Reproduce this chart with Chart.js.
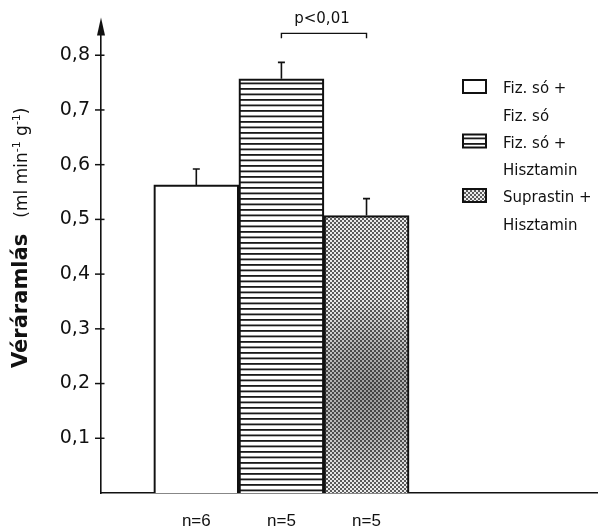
<!DOCTYPE html>
<html>
<head>
<meta charset="utf-8">
<script src="https://cdn.jsdelivr.net/npm/chart.js@4"></script>
<style>
  html, body { margin: 0; padding: 0; background: #fff; }
  #wrap { width: 598px; height: 532px; }
</style>
</head>
<body>
<div id="wrap"><canvas id="c" width="598" height="532"></canvas></div>
<script>
// Treatment groups (legend text, two lines each)
const groupLabels = [
  ['Fiz. só +', 'Fiz. só'],
  ['Fiz. só +', 'Hisztamin'],
  ['Suprastin +', 'Hisztamin']
];
// Number of animals per group, printed under each bar
const sampleSizes = ['n=6', 'n=5', 'n=5'];
// Bar positions on the x scale
const barPositions = [1, 2, 3];
// Blood flow (ml min-1 g-1): mean and SEM
const means = [0.563, 0.757, 0.507];
const sems = [0.029, 0.030, 0.031];
// Y axis ticks
const yTicks = [0.1, 0.2, 0.3, 0.4, 0.5, 0.6, 0.7, 0.8];
const yTickLabels = ['0,1', '0,2', '0,3', '0,4', '0,5', '0,6', '0,7', '0,8'];
// Significance bracket between groups 2 and 3
const sigPair = [1, 2];
const sigLabel = 'p<0,01';
const sigLevel = 0.84;

const INK = '#111';

function makePattern(w, h, paint) {
  const c = document.createElement('canvas');
  c.width = w; c.height = h;
  const g = c.getContext('2d');
  paint(g);
  return g.createPattern(c, 'repeat');
}
const plainFill = '#ffffff';
const stripeFill = makePattern(4, 11, g => {
  g.fillStyle = '#fff'; g.fillRect(0, 0, 4, 11);
  g.fillStyle = '#1a1a1a';
  g.fillRect(0, 0, 4, 1.8);
  g.fillRect(0, 5.5, 4, 1.8);
});
const dotFill = makePattern(4, 4, g => {
  g.fillStyle = '#ececec'; g.fillRect(0, 0, 4, 4);
  g.fillStyle = '#5c5c5c';
  g.fillRect(0, 0, 2, 2);
  g.fillRect(2, 2, 2, 2);
});
const fills = [plainFill, stripeFill, dotFill];

// Uneven darker halftone in the dotted bar
const shadePlugin = {
  id: 'shade',
  afterDatasetsDraw(chart) {
    const el = chart.getDatasetMeta(0).data[2];
    if (!el) return;
    const p = el.getProps(['x', 'y', 'base', 'width'], true);
    const c = chart.ctx;
    const left = p.x - p.width / 2 + 2, right = p.x + p.width / 2 - 2;
    const top = p.y + 2, bottom = p.base;
    const h = bottom - top;
    c.save();
    c.beginPath();
    c.rect(left, top, right - left, bottom - top);
    c.clip();
    c.translate(p.x + p.width * 0.05, bottom - h * 0.37);
    c.scale(1, 1.15);
    const r = p.width * 1.0;
    const g = c.createRadialGradient(0, 0, 0, 0, 0, r);
    g.addColorStop(0, 'rgba(20,20,20,0.38)');
    g.addColorStop(0.5, 'rgba(20,20,20,0.25)');
    g.addColorStop(1, 'rgba(20,20,20,0)');
    c.fillStyle = g;
    c.fillRect(-r * 2, -r * 2, r * 4, r * 4);
    c.restore();
  }
};

// Upper SEM whiskers, significance bracket, axis arrow, tick crosses
const annotPlugin = {
  id: 'annot',
  afterDraw(chart) {
    const c = chart.ctx;
    const ys = chart.scales.y;
    const area = chart.chartArea;
    const bars = chart.getDatasetMeta(0).data;
    c.save();
    c.strokeStyle = INK;
    c.fillStyle = INK;
    c.lineCap = 'butt';

    // whiskers
    c.lineWidth = 1.6;
    bars.forEach((el, i) => {
      const p = el.getProps(['x', 'y'], true);
      const yTop = ys.getPixelForValue(means[i] + sems[i]);
      c.beginPath();
      c.moveTo(p.x, p.y);
      c.lineTo(p.x, yTop);
      c.moveTo(p.x - 3.5, yTop);
      c.lineTo(p.x + 3.5, yTop);
      c.stroke();
    });

    // bracket
    const xa = bars[sigPair[0]].x, xb = bars[sigPair[1]].x;
    const yb = ys.getPixelForValue(sigLevel);
    c.lineWidth = 1.4;
    c.beginPath();
    c.moveTo(xa, yb + 5);
    c.lineTo(xa, yb);
    c.lineTo(xb, yb);
    c.lineTo(xb, yb + 5);
    c.stroke();
    c.font = '15px "DejaVu Sans"';
    c.textAlign = 'center';
    c.textBaseline = 'alphabetic';
    c.fillText(sigLabel, (xa + xb) / 2 - 2, yb - 10);

    // tick crosses on the value axis
    c.lineWidth = 1.5;
    ys.ticks.forEach(t => {
      const y = ys.getPixelForValue(t.value);
      c.beginPath();
      c.moveTo(area.left - 6, y);
      c.lineTo(area.left + 3.5, y);
      c.stroke();
    });

    // arrow head on top of the value axis
    c.beginPath();
    c.moveTo(area.left, area.top - 5);
    c.lineTo(area.left - 4, area.top + 13);
    c.lineTo(area.left + 4, area.top + 13);
    c.closePath();
    c.fill();
    c.restore();
  }
};

// Rotated axis title with bold word and superscripts
const titlePlugin = {
  id: 'ytitle',
  afterDraw(chart, args, opts) {
    const c = chart.ctx;
    c.save();
    c.translate(opts.x, opts.y);
    c.rotate(-Math.PI / 2);
    c.fillStyle = INK;
    c.textAlign = 'left';
    c.textBaseline = 'alphabetic';
    const parts = [
      { t: 'Véráramlás', f: 'bold 21px "DejaVu Sans"', dy: 0 },
      { t: '   ', f: '17px "DejaVu Sans"', dy: 0 },
      { t: '(ml min', f: '17px "DejaVu Sans"', dy: 0 },
      { t: '-1', f: '11px "DejaVu Sans"', dy: -7 },
      { t: ' g', f: '17px "DejaVu Sans"', dy: 0 },
      { t: '-1', f: '11px "DejaVu Sans"', dy: -7 },
      { t: ')', f: '17px "DejaVu Sans"', dy: 0 }
    ];
    let x = 0;
    parts.forEach(p => {
      c.font = p.f;
      c.fillText(p.t, x, p.dy);
      x += c.measureText(p.t).width;
    });
    c.restore();
  }
};

// Legend with pattern swatches
const swatchPlugin = {
  id: 'swatches',
  afterDraw(chart, args, opts) {
    const c = chart.ctx;
    c.save();
    c.font = '15px "DejaVu Sans"';
    c.textAlign = 'left';
    c.textBaseline = 'alphabetic';
    groupLabels.forEach((lines, i) => {
      const base = opts.top + i * opts.itemGap;
      const bx = opts.x, by = base - 13;
      c.fillStyle = fills[i];
      c.fillRect(bx, by, opts.boxW, opts.boxH);
      c.strokeStyle = INK;
      c.lineWidth = 2;
      c.strokeRect(bx, by, opts.boxW, opts.boxH);
      c.fillStyle = INK;
      lines.forEach((ln, k) => {
        c.fillText(ln, opts.textX, base + k * opts.lineGap);
      });
    });
    c.restore();
  }
};

new Chart(document.getElementById('c'), {
  type: 'bar',
  data: {
    datasets: [{
      data: barPositions.map((x, i) => ({ x: x, y: means[i] })),
      backgroundColor: fills,
      borderColor: INK,
      borderWidth: 2.2,
      borderSkipped: 'bottom',
      categoryPercentage: 1,
      barPercentage: 1
    }]
  },
  options: {
    responsive: false,
    animation: false,
    devicePixelRatio: 1,
    layout: { padding: { top: 18, right: 0, left: 0, bottom: 0 } },
    plugins: {
      legend: { display: false },
      tooltip: { enabled: false },
      ytitle: { x: 27, y: 368 },
      swatches: { x: 463, top: 93, itemGap: 54.5, lineGap: 27.5, boxW: 23, boxH: 13, textX: 503 }
    },
    scales: {
      x: {
        type: 'linear',
        offset: false,
        bounds: 'data',
        min: -0.12,
        max: 5.72,
        grid: { display: false, drawTicks: false, offset: false },
        border: { display: true, color: INK, width: 1.6 },
        afterBuildTicks(scale) {
          scale.ticks = barPositions.map(v => ({ value: v }));
        },
        afterFit(scale) { scale.height = 39; },
        ticks: {
          autoSkip: false,
          maxRotation: 0,
          padding: 18,
          color: INK,
          font: { family: '"Liberation Sans"', size: 17 },
          callback: (v) => {
            const i = barPositions.indexOf(v);
            return i >= 0 ? sampleSizes[i] : '';
          }
        }
      },
      y: {
        min: 0,
        max: 0.86,
        grid: { display: false, drawTicks: false },
        border: { display: true, color: INK, width: 1.6 },
        afterBuildTicks(scale) {
          scale.ticks = yTicks.map(v => ({ value: v }));
        },
        afterFit(scale) { scale.width = 101; },
        ticks: {
          padding: 11,
          color: INK,
          font: { family: '"DejaVu Sans"', size: 19 },
          callback: (v, i) => yTickLabels[i]
        }
      }
    }
  },
  plugins: [shadePlugin, annotPlugin, titlePlugin, swatchPlugin]
});
</script>
</body>
</html>
